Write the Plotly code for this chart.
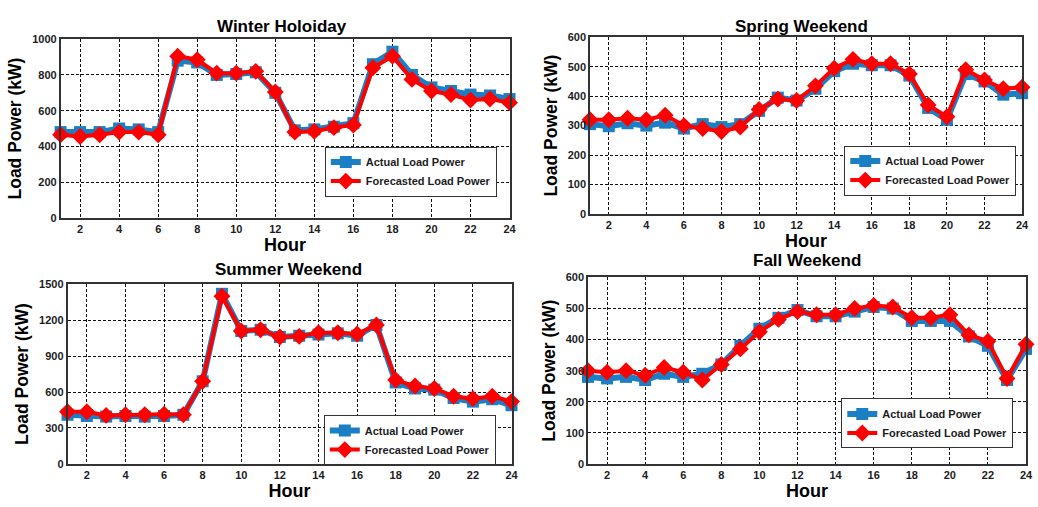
import plotly.graph_objects as go
from plotly.subplots import make_subplots

hours = list(range(1, 25))

titles = ["Winter Holoiday", "Spring Weekend", "Summer Weekend", "Fall Weekend"]

winter_actual = [480, 480, 480, 500, 495, 480, 880, 870, 800, 805, 815, 700,
                 490, 495, 510, 530, 860, 930, 800, 730, 710, 690, 685, 665]
winter_forecast = [465, 455, 465, 480, 480, 465, 905, 885, 810, 810, 820, 705,
                   480, 485, 505, 520, 840, 905, 775, 710, 690, 660, 665, 645]

spring_actual = [305, 298, 308, 300, 310, 290, 305, 295, 305, 350, 395, 385,
                 425, 485, 510, 505, 505, 470, 360, 320, 475, 450, 405, 410]
spring_forecast = [320, 320, 325, 320, 335, 300, 290, 280, 295, 355, 390, 385,
                   435, 495, 525, 510, 510, 475, 370, 330, 490, 455, 425, 430]

summer_actual = [410, 400, 395, 400, 395, 400, 410, 690, 1420, 1110, 1120, 1060,
                 1070, 1080, 1090, 1070, 1160, 680, 630, 620, 550, 520, 540, 490]
summer_forecast = [435, 435, 405, 410, 410, 415, 410, 690, 1400, 1110, 1120, 1060,
                   1065, 1095, 1095, 1085, 1160, 700, 650, 630, 565, 545, 565, 520]

fall_actual = [280, 275, 280, 270, 290, 280, 290, 320, 380, 435, 470, 495,
               475, 475, 490, 505, 500, 460, 460, 460, 410, 380, 270, 370]
fall_forecast = [300, 295, 300, 285, 310, 295, 270, 320, 370, 425, 465, 490,
                 480, 480, 500, 510, 505, 470, 470, 480, 415, 395, 275, 385]

actual_sets = [winter_actual, spring_actual, summer_actual, fall_actual]
forecast_sets = [winter_forecast, spring_forecast, summer_forecast, fall_forecast]

y_ranges = [[0, 1000], [0, 600], [0, 1500], [0, 600]]
y_dticks = [200, 100, 300, 100]
x_ticks = list(range(2, 25, 2))

FONT = "Liberation Sans"
BLUE = "#1a7fc4"
RED = "#ff0000"
DARK = "#1c1c24"

W, H = 1038, 507
# layout geometry (pixels -> paper fractions)
x_px = [(61, 513), (594, 1029), (68, 515), (592, 1033)]
y_px = [(34, 217), (32, 213), (285, 469), (278, 469)]
legend_px = [(327, 144), (850, 143), (326, 419), (847, 402)]
title_px = [(284, 21), (807, 21), (290, 270), (812, 261)]

fig = make_subplots(rows=2, cols=2)

for i in range(4):
    r, c = i // 2 + 1, i % 2 + 1
    leg = "legend" if i == 0 else f"legend{i + 1}"
    fig.add_trace(go.Scatter(
        x=hours, y=actual_sets[i], mode="lines+markers", name="Actual Load Power",
        line=dict(color=BLUE, width=6), marker=dict(symbol="square", size=12, color=BLUE),
        cliponaxis=False, legend=leg), row=r, col=c)
    fig.add_trace(go.Scatter(
        x=hours, y=forecast_sets[i], mode="lines+markers", name="Forecasted Load Power",
        line=dict(color=RED, width=4), marker=dict(symbol="diamond", size=13, color=RED),
        cliponaxis=False, legend=leg), row=r, col=c)

    xa = "xaxis" if i == 0 else f"xaxis{i + 1}"
    ya = "yaxis" if i == 0 else f"yaxis{i + 1}"
    x0, x1 = x_px[i]
    yt, yb = y_px[i]
    fig.layout[xa].update(
        domain=[x0 / W, x1 / W], range=[1, 24], tickvals=x_ticks,
        showgrid=True, gridcolor="#111111", griddash="3px,2px", gridwidth=1,
        showline=True, mirror=True, linecolor="#333333", linewidth=1.5,
        zeroline=False, ticks="",
        tickfont=dict(family=FONT, size=11, color=DARK, weight="bold"),
        title=dict(text="Hour", standoff=0,
                   font=dict(family=FONT, size=18, color="#000000", weight="bold")))
    fig.layout[ya].update(
        domain=[1 - yb / H, 1 - yt / H], range=y_ranges[i], dtick=y_dticks[i], tick0=0,
        showgrid=True, gridcolor="#111111", griddash="3px,2px", gridwidth=1,
        showline=True, mirror=True, linecolor="#333333", linewidth=1.5,
        zeroline=False, ticks="",
        tickfont=dict(family=FONT, size=11, color=DARK, weight="bold"),
        title=dict(text="Load Power (kW)", standoff=6,
                   font=dict(family=FONT, size=17.5, color="#000000", weight="bold")))

    lx, ly = legend_px[i]
    fig.layout[leg] = dict(x=lx / W, y=1 - ly / H, xanchor="left", yanchor="top",
                           bgcolor="white", bordercolor="#333333", borderwidth=1,
                           font=dict(family=FONT, size=11, color=DARK, weight="bold"),
                           tracegroupgap=0, itemwidth=30)

    tx, ty = title_px[i]
    fig.add_annotation(text=titles[i], x=tx / W, y=1 - ty / H, xref="paper", yref="paper",
                       xanchor="center", yanchor="middle", showarrow=False,
                       font=dict(family=FONT, size=17, color="#000000", weight="bold"))

fig.update_layout(width=W, height=H, margin=dict(l=0, r=0, t=0, b=0),
                  paper_bgcolor="white", plot_bgcolor="white", showlegend=True)

fig.write_html("out.html")
